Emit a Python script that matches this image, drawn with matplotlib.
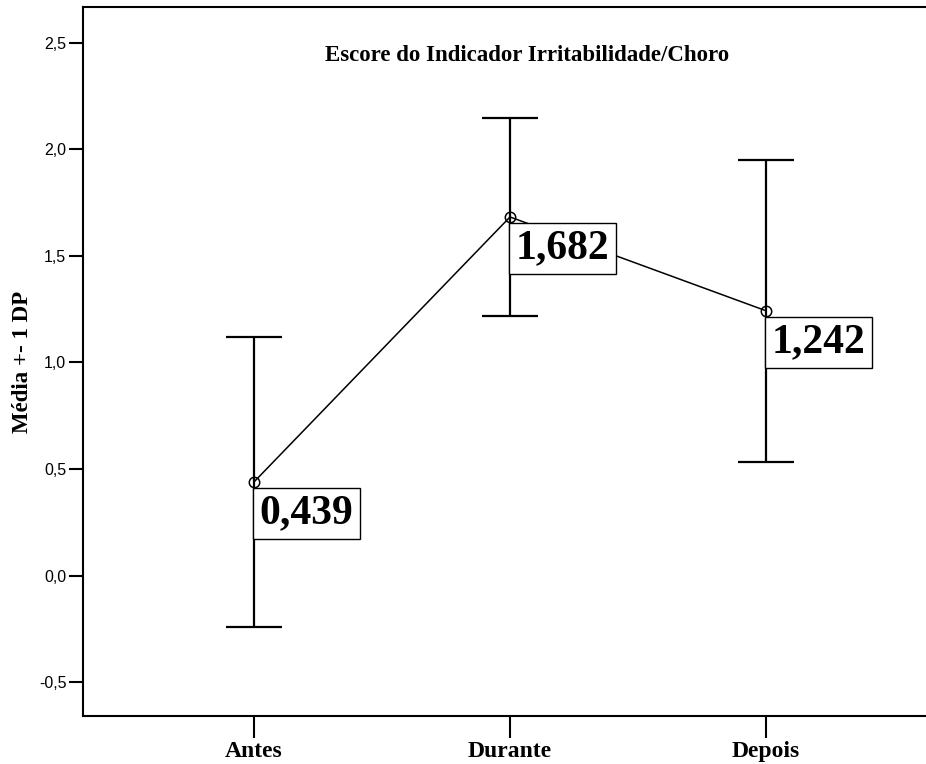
import matplotlib.pyplot as plt

# data
momentos = ["Antes", "Durante", "Depois"]
medias = [0.439, 1.682, 1.242]
desvios = [0.68, 0.465, 0.708]
rotulos = ["0,439", "1,682", "1,242"]
yticks = [-0.5, 0.0, 0.5, 1.0, 1.5, 2.0, 2.5]

serif = ["Liberation Serif", "DejaVu Serif"]

fig = plt.figure(figsize=(9.26, 7.64), dpi=100)
ax = fig.add_axes([83 / 926, 48 / 764, 843 / 926, 709 / 764])

x = list(range(len(momentos)))
ax.errorbar(x, medias, yerr=desvios, fmt="none", ecolor="black",
            elinewidth=1.6, capsize=20.5, capthick=1.6)
ax.plot(x, medias, color="black", lw=1.1, marker="o", ms=7.5,
        mfc="none", mec="black", mew=1.1, zorder=3)

for xi, yi, txt in zip(x, medias, rotulos):
    ax.annotate(txt, (xi, yi), xytext=(4, -9), textcoords="offset points",
                ha="left", va="top", fontsize=30, fontweight="bold",
                family=serif, zorder=4,
                bbox=dict(boxstyle="square,pad=0.16", fc="white",
                          ec="black", lw=1))

ax.set_xlim(-0.668, 2.625)
ax.set_ylim(-0.659, 2.667)
ax.set_xticks(x)
ax.set_xticklabels(momentos, fontsize=17, fontweight="bold", family=serif)
ax.set_yticks(yticks)
ax.set_yticklabels([f"{v:.1f}".replace(".", ",") for v in yticks],
                   fontsize=11.5, family=["Liberation Sans", "DejaVu Sans"])
ax.tick_params(axis="x", length=16, width=1.5, pad=2)
ax.tick_params(axis="y", length=10, width=1.5, pad=2)
for s in ["left", "top", "bottom"]:
    ax.spines[s].set_linewidth(1.5)
ax.spines["right"].set_visible(False)

ax.set_ylabel("Média +- 1 DP", fontsize=16.5, fontweight="bold",
              family=serif, labelpad=4)
ax.text(0.527, 0.931, "Escore do Indicador Irritabilidade/Choro",
        transform=ax.transAxes, ha="center", va="center",
        fontsize=16.5, fontweight="bold", family=serif)

fig.savefig("out.png", dpi=100)
